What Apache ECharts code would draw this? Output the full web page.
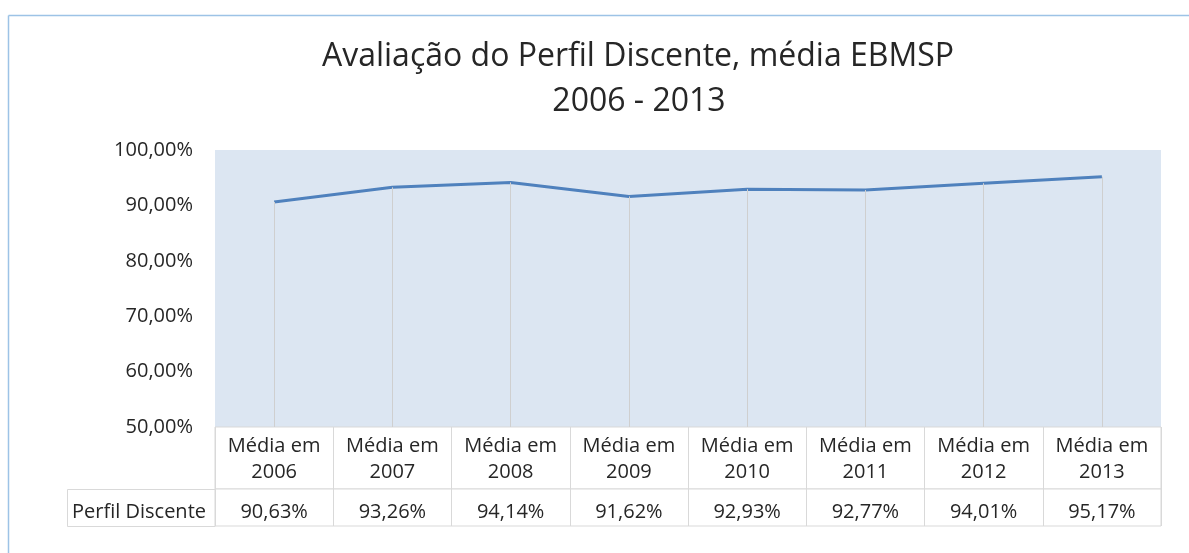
<!DOCTYPE html>
<html>
<head>
<meta charset="utf-8">
<script src="https://cdn.jsdelivr.net/npm/echarts@6/dist/echarts.min.js"></script>
<style>
  html, body { margin: 0; padding: 0; background: #fff; }
  #chart { width: 1189px; height: 553px; }
</style>
</head>
<body>
<div id="chart"></div>
<script>
// dados do gráfico
const anos = ['2006', '2007', '2008', '2009', '2010', '2011', '2012', '2013'];
const categorias = anos.map(a => 'Média em\n' + a);
const perfilDiscente = [90.63, 93.26, 94.14, 91.62, 92.93, 92.77, 94.01, 95.17];
const serieNome = 'Perfil Discente';
const yTicks = [50, 60, 70, 80, 90, 100];

const fmt = v => v.toFixed(2).replace('.', ',') + '%';
const fonte = '"Open Sans", "Noto Sans", sans-serif';
const corBorda = '#d9d9d9';
const corTexto = '#262626';

const chart = echarts.init(document.getElementById('chart'));

// linhas de queda de cada ponto até a base
const quedas = perfilDiscente.map((v, i) => [
  {coord: [i, v]},
  {coord: [i, yTicks[0]]}
]);

const option = {
  animation: false,
  graphic: [
    {type: 'line', shape: {x1: 8.5, y1: 15.5, x2: 1189, y2: 15.5}, style: {stroke: '#9dc3e6', lineWidth: 1.5}},
    {type: 'line', shape: {x1: 8.5, y1: 15.5, x2: 8.5, y2: 553}, style: {stroke: '#9dc3e6', lineWidth: 1.5}},
    {type: 'text', x: 638, y: 57, style: {text: 'Avaliação do Perfil Discente, média EBMSP', font: '32px ' + fonte, fill: corTexto, textAlign: 'center', textVerticalAlign: 'middle'}},
    {type: 'text', x: 639, y: 102, style: {text: '2006 - 2013', font: '32px ' + fonte, fill: corTexto, textAlign: 'center', textVerticalAlign: 'middle'}},
    {type: 'rect', shape: {x: 67.5, y: 489.5, width: 147.5, height: 37}, style: {fill: '#fff', stroke: corBorda, lineWidth: 1}},
    {type: 'text', x: 139, y: 512, style: {text: serieNome, font: '20px ' + fonte, fill: corTexto, textAlign: 'center', textVerticalAlign: 'middle'}}
  ],
  grid: [
    {left: 215, right: 28, top: 150, height: 277, show: true, backgroundColor: '#dce6f2', borderWidth: 0},
    {left: 215, right: 28, top: 427, height: 62, show: true, backgroundColor: '#fff', borderColor: corBorda, borderWidth: 1},
    {left: 215, right: 28, top: 489, height: 37, show: true, backgroundColor: '#fff', borderColor: corBorda, borderWidth: 1}
  ],
  xAxis: [
    {
      type: 'category', gridIndex: 0, data: categorias, boundaryGap: true,
      axisLine: {show: false}, axisTick: {show: false}, axisLabel: {show: false}, splitLine: {show: false}
    },
    {
      type: 'category', gridIndex: 1, data: categorias, boundaryGap: true,
      axisLine: {show: false}, axisTick: {show: false},
      splitLine: {show: true, interval: 0, lineStyle: {color: corBorda, width: 1}},
      axisLabel: {inside: true, interval: 0, margin: 30, color: corTexto, fontSize: 20, fontFamily: fonte, lineHeight: 26, verticalAlign: 'middle'}
    },
    {
      type: 'category', gridIndex: 2, data: perfilDiscente.map(fmt), boundaryGap: true,
      axisLine: {show: false}, axisTick: {show: false},
      splitLine: {show: true, interval: 0, lineStyle: {color: corBorda, width: 1}},
      axisLabel: {inside: true, interval: 0, margin: 14, color: corTexto, fontSize: 20, fontFamily: fonte, verticalAlign: 'middle'}
    }
  ],
  yAxis: [
    {
      type: 'value', gridIndex: 0, min: yTicks[0], max: yTicks[yTicks.length - 1], interval: 10,
      axisLine: {show: false}, axisTick: {show: false}, splitLine: {show: false},
      axisLabel: {formatter: fmt, color: corTexto, fontSize: 20, fontFamily: fonte, margin: 22}
    },
    {type: 'value', gridIndex: 1, show: false},
    {type: 'value', gridIndex: 2, show: false}
  ],
  series: [
    {
      name: serieNome,
      type: 'line',
      xAxisIndex: 0, yAxisIndex: 0,
      data: perfilDiscente,
      symbol: 'none',
      lineStyle: {color: '#4f81bd', width: 3},
      markLine: {
        silent: true, symbol: 'none', label: {show: false},
        lineStyle: {color: '#cfcfcf', width: 1, type: 'solid'},
        data: quedas
      },
      z: 3
    }
  ]
};

chart.setOption(option);
</script>
</body>
</html>
